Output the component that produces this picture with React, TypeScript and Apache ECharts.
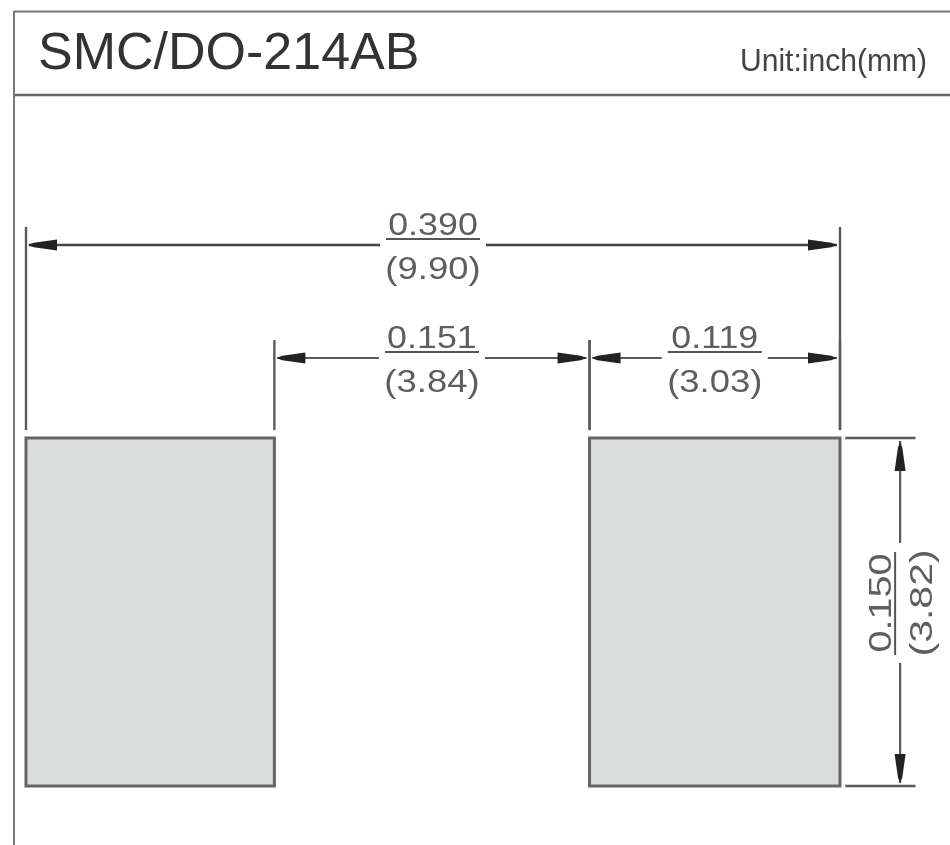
import React, { useEffect, useRef } from "react";
import * as echarts from "echarts";

const titleText = "SMC/DO-214AB";
const unitText = "Unit:inch(mm)";

// Land pattern, in inches
const padStart = [0, 0.27];
const padEnd = [0.119, 0.39];
const padHeight = 0.15;

// Horizontal dimensions, in inches
const dimFrom = [0, 0.119, 0.27];
const dimTo = [0.39, 0.27, 0.39];
const dimLevel = [0.2332, 0.1845, 0.1845];
const dimInch = ["0.390", "0.151", "0.119"];
const dimMm = ["(9.90)", "(3.84)", "(3.03)"];

// Vertical dimension
const heightInch = "0.150";
const heightMm = "(3.82)";

const FONT = "'Liberation Sans', Arial, sans-serif";

function arrow(tipX: number, tipY: number, dx: number, dy: number, fill = "#222") {
  // dx/dy is the unit direction from the tip towards the tail
  const len = 29;
  const half = 5.5;
  const px = -dy;
  const py = dx;
  return {
    type: "polygon",
    shape: {
      points: [
        [tipX, tipY],
        [tipX + dx * len * 0.2 + px * 2.2, tipY + dy * len * 0.2 + py * 2.2],
        [tipX + dx * len + px * half, tipY + dy * len + py * half],
        [tipX + dx * len - px * half, tipY + dy * len - py * half],
        [tipX + dx * len * 0.2 - px * 2.2, tipY + dy * len * 0.2 - py * 2.2],
      ],
    },
    style: { fill },
  };
}

function seg(x1: number, y1: number, x2: number, y2: number, lineWidth: number, stroke = "#5a5a5a") {
  return { type: "line", shape: { x1, y1, x2, y2 }, style: { stroke, lineWidth, fill: null } };
}

function label(text: string, x: number, y: number, size: number, scaleX: number, rotation = 0, fill = "#5e5e5e") {
  return {
    type: "text",
    x,
    y,
    scaleX,
    rotation,
    style: { text, x: 0, y: 0, fontSize: size, fontFamily: FONT, fill, align: "center", verticalAlign: "middle" },
  };
}

export default function App() {
  const ref = useRef<HTMLDivElement>(null);

  useEffect(() => {
    const chart = echarts.init(ref.current!, undefined, { renderer: "svg" });
    chart.setOption({
      animation: false,
      backgroundColor: "#ffffff",
      grid: { left: 26, top: 438, width: 814, height: 348, containLabel: false },
      xAxis: { type: "value", min: 0, max: 0.39, show: false },
      yAxis: { type: "value", min: 0, max: padHeight, show: false },
      graphic: [
        { type: "line", shape: { x1: 14, y1: 11.5, x2: 950, y2: 11.5 }, style: { stroke: "#777", lineWidth: 2 } },
        { type: "line", shape: { x1: 14, y1: 95, x2: 950, y2: 95 }, style: { stroke: "#666", lineWidth: 2.5 } },
        { type: "line", shape: { x1: 14, y1: 11, x2: 14, y2: 845 }, style: { stroke: "#777", lineWidth: 2 } },
        {
          type: "text",
          x: 38,
          y: 51,
          style: { text: titleText, fontSize: 52, fontFamily: FONT, fill: "#333", align: "left", verticalAlign: "middle" },
        },
        {
          type: "text",
          x: 740,
          y: 60,
          scaleX: 0.94,
          style: { text: unitText, fontSize: 32, fontFamily: FONT, fill: "#444", align: "left", verticalAlign: "middle" },
        },
      ],
      series: [
        {
          type: "custom",
          coordinateSystem: "cartesian2d",
          data: padStart.map((s, i) => [s, padEnd[i]]),
          renderItem: (_p: any, api: any) => {
            const a = api.coord([api.value(0), padHeight]);
            const b = api.coord([api.value(1), 0]);
            return {
              type: "group",
              children: [
                {
                  type: "rect",
                  shape: { x: a[0], y: a[1], width: b[0] - a[0], height: b[1] - a[1] },
                  style: { fill: "#dcdddd", stroke: "#666", lineWidth: 3 },
                },
              ],
            };
          },
        },
        {
          type: "custom",
          coordinateSystem: "cartesian2d",
          data: dimFrom.map((f, i) => [f, dimTo[i], dimLevel[i]]),
          renderItem: (p: any, api: any) => {
            const i = p.dataIndex;
            const l = api.coord([api.value(0), api.value(2)]);
            const r = api.coord([api.value(1), api.value(2)]);
            const y = l[1];
            const children: any[] = [];
            const lw = i === 0 ? 2.6 : 2;
            const stroke = i === 0 ? "#444" : "#5a5a5a";
            const tall = i === 0 ? 0.241 : 0.1922;
            const foot = api.coord([0, 0.1534])[1];
            const top = api.coord([0, tall])[1];
            const left = l[0];
            const right = r[0];
            const mid = (left + right) / 2;
            children.push(seg(left + 3, y, mid - 53, y, lw, stroke));
            children.push(seg(mid + 53, y, right - 3, y, lw, stroke));
            children.push(arrow(left + 2, y, 1, 0));
            children.push(arrow(right - 3, y, -1, 0));
            children.push(seg(left, top, left, foot, 2.4));
            children.push(seg(right, top, right, foot, 2.4));
            children.push(seg(mid - 47, y - 6, mid + 47, y - 6, 2, "#555"));
            children.push(label(dimInch[i], mid, y - 21, 32, 1.12));
            children.push(label(dimMm[i], mid, y + 23, 32, 1.14));
            return { type: "group", children };
          },
        },
        {
          type: "custom",
          coordinateSystem: "cartesian2d",
          data: [[padHeight]],
          renderItem: (_p: any, api: any) => {
            const t = api.coord([0.4188, api.value(0)]);
            const b = api.coord([0.4188, 0]);
            const xL = api.coord([0.3925, 0])[0];
            const xR = api.coord([0.4262, 0])[0];
            const x = t[0];
            const mid = api.coord([0, 0.0789])[1];
            return {
              type: "group",
              children: [
                seg(xL, t[1], xR, t[1], 2.4),
                seg(xL, b[1], xR, b[1], 2.4),
                seg(x, t[1] + 3, x, mid - 60, 2.2),
                seg(x, mid + 60, x, b[1] - 3, 2.2),
                arrow(x, t[1] + 4, 0, 1),
                arrow(x, b[1] - 3, 0, -1),
                seg(x - 5, mid - 51, x - 5, mid + 52, 2, "#555"),
                label(heightInch, x - 20, mid, 32, 1.24, Math.PI / 2),
                label(heightMm, x + 21, mid, 32, 1.28, Math.PI / 2),
              ],
            };
          },
        },
      ],
    });
    return () => chart.dispose();
  }, []);

  return (
    <div
      ref={ref}
      style={{ position: "fixed", left: 0, top: 0, width: 950, height: 845, filter: "blur(0.5px)" }}
    />
  );
}
